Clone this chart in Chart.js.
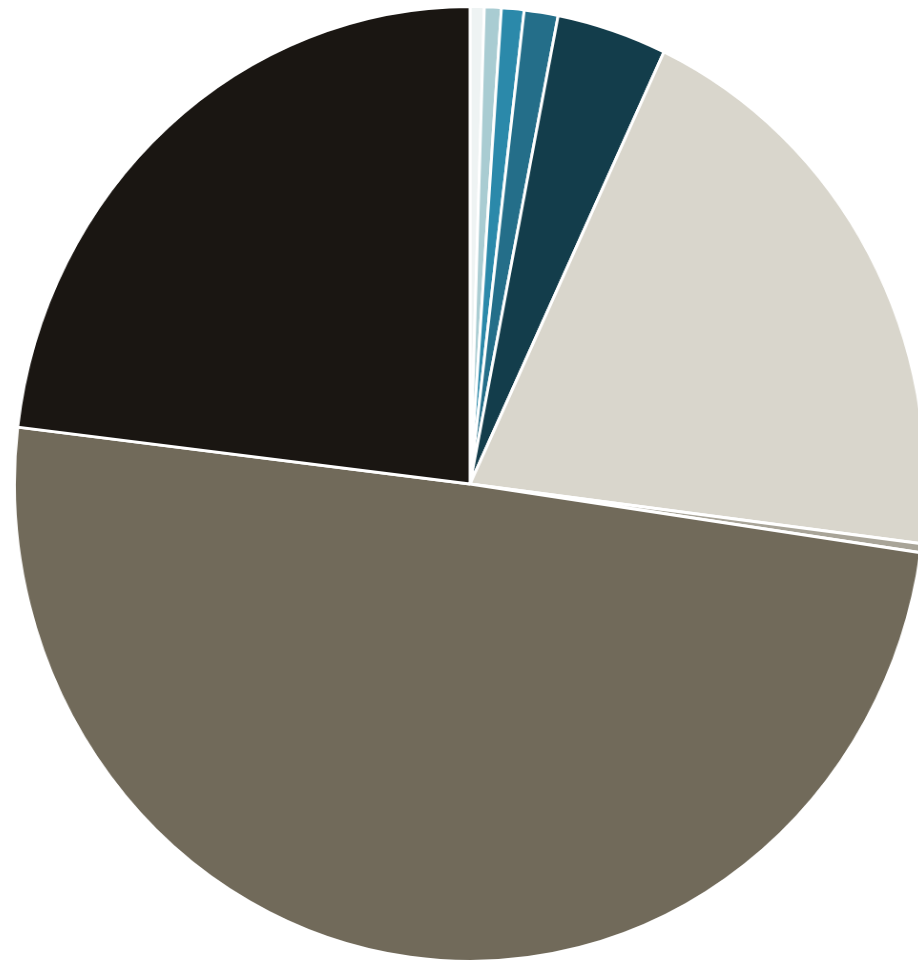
<!DOCTYPE html>
<html>
<head>
<meta charset="utf-8">
<script src="https://cdn.jsdelivr.net/npm/chart.js@4/dist/chart.umd.min.js"></script>
<style>
  html, body { margin: 0; padding: 0; background: #ffffff; overflow: hidden; width: 918px; height: 964px; }
  #wrap { position: absolute; left: -9px; top: 5px; width: 958px; height: 958px; transform: scaleX(0.954); transform-origin: 479px 479px; }
</style>
</head>
<body>
<div id="wrap"><canvas id="pie" width="958" height="958"></canvas></div>
<script>
// segmentos en sentido horario desde las 12
const categorias = ['S1', 'S2', 'S3', 'S4', 'S5', 'S6', 'S7', 'S8', 'S9'];
const valores = [0.5, 0.6, 0.8, 1.2, 3.9, 20.0, 0.3, 49.6, 23.1];
const colores = ['#eef3f3', '#a9ccd2', '#2b89aa', '#246e89', '#133d4b', '#d9d6cc', '#a8a498', '#716a5a', '#1a1612'];

const ctx = document.getElementById('pie');
new Chart(ctx, {
    type: 'pie',
    data: {
        labels: categorias,
        datasets: [{
            data: valores,
            backgroundColor: colores,
            borderColor: '#ffffff',
            borderWidth: 3
        }]
    },
    options: {
        responsive: false,
        animation: false,
        layout: { padding: 0 },
        plugins: {
            legend: { display: false },
            tooltip: { enabled: false }
        }
    }
});
</script>
</body>
</html>
